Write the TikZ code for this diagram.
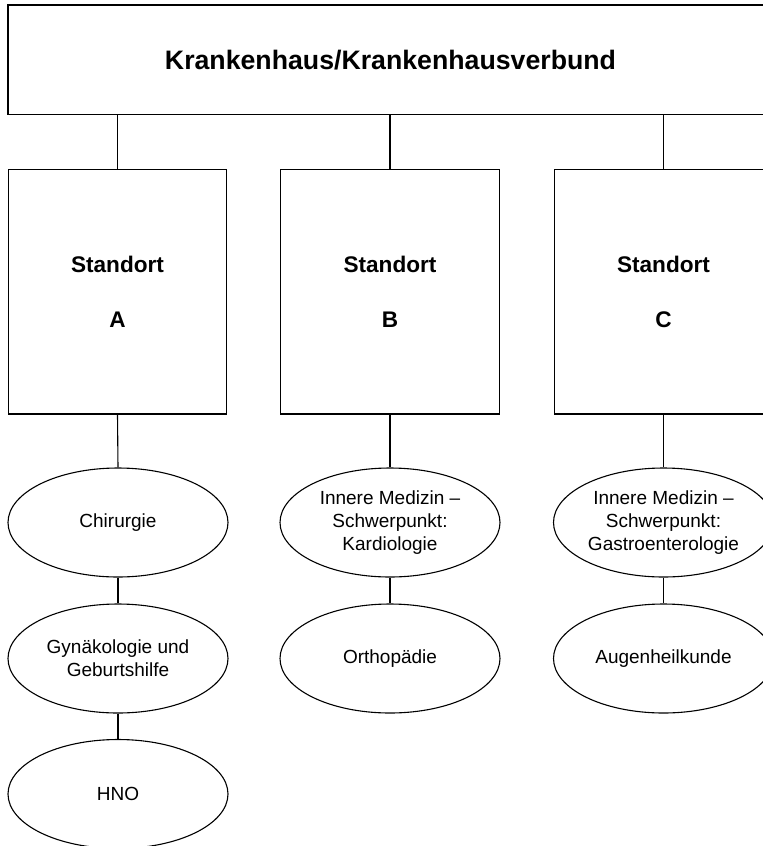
\documentclass[tikz,border=0pt]{standalone}
\usepackage{fontspec}
\setmainfont{Liberation Sans}
\usetikzlibrary{shapes.geometric}
\begin{document}
\begin{tikzpicture}[x=1pt, y=-1pt,
  line width=1.1pt,
  topbox/.style={draw, rectangle, inner sep=0pt, minimum width=765pt, minimum height=109.5pt,
    font=\fontsize{26.7}{32}\selectfont\bfseries},
  sitebox/.style={draw, rectangle, inner sep=0pt, minimum width=218.5pt, minimum height=244.5pt,
    align=center, font=\fontsize{22.6}{55.3}\selectfont\bfseries},
  dept/.style={draw, ellipse, inner sep=0pt, minimum width=220pt, minimum height=109pt,
    align=center, font=\fontsize{19}{23.3}\selectfont},
  link/.style={draw}]
  \useasboundingbox (0,0) rectangle (763,846);
  \clip (0,0) rectangle (763,846);

  % organisation
  \node[topbox] (top) at (390.5,59.75) {Krankenhaus/Krankenhausverbund};

  % sites
  \node[sitebox] (sA) at (117.5,291.75) {Standort\\A};
  \node[sitebox] (sB) at (390,291.75) {Standort\\B};
  \node[sitebox] (sC) at (663.5,291.75) {Standort\\C};

  % departments, site A
  \node[dept] (a1) at (118,522.5) {Chirurgie};
  \node[dept] (a2) at (118,658.5) {Gynäkologie und\\Geburtshilfe};
  \node[dept] (a3) at (118,794) {HNO};

  % departments, site B
  \node[dept] (b1) at (390,522.5) {Innere Medizin –\\Schwerpunkt:\\Kardiologie};
  \node[dept] (b2) at (390,658.5) {Orthopädie};

  % departments, site C
  \node[dept] (c1) at (663.5,522.5) {Innere Medizin –\\Schwerpunkt:\\Gastroenterologie};
  \node[dept] (c2) at (663.5,658.5) {Augenheilkunde};

  % connectors
  \draw[link] (top.south -| sA.north) -- (sA.north);
  \draw[link] (top.south -| sB.north) -- (sB.north);
  \draw[link] (top.south -| sC.north) -- (sC.north);
  \draw[link] (sA.south) -- (a1.north);
  \draw[link] (a1.south) -- (a2.north);
  \draw[link] (a2.south) -- (a3.north);
  \draw[link] (sB.south) -- (b1.north);
  \draw[link] (b1.south) -- (b2.north);
  \draw[link] (sC.south) -- (c1.north);
  \draw[link] (c1.south) -- (c2.north);
\end{tikzpicture}
\end{document}
